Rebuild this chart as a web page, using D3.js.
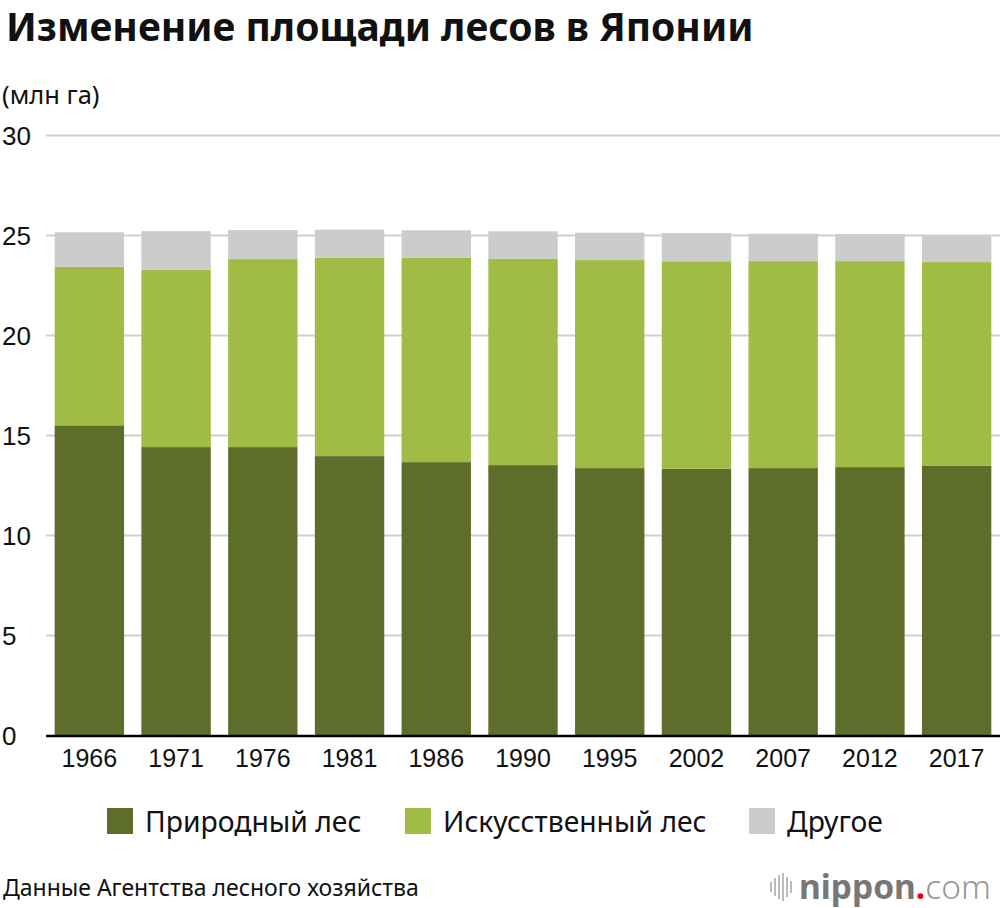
<!DOCTYPE html>
<html><head><meta charset="utf-8">
<script src="https://cdn.jsdelivr.net/npm/d3@7/dist/d3.min.js"></script>
<style>body{margin:0;background:#fff}svg{display:block}</style>
</head><body>
<svg id="c" width="1000" height="908"></svg>
<script>
const years = ["1966","1971","1976","1981","1986","1990","1995","2002","2007","2012","2017"];
const natural = [15.51,14.42,14.42,13.97,13.67,13.52,13.37,13.34,13.37,13.42,13.48];
const artificial = [7.93,8.87,9.40,9.92,10.22,10.32,10.40,10.37,10.35,10.30,10.19];
const other = [1.72,1.93,1.45,1.40,1.37,1.37,1.37,1.41,1.37,1.35,1.34];
const seriesNames = ["Природный лес","Искусственный лес","Другое"];
const seriesColors = ["#5e6e2a","#a0bc44","#cccccc"];
const yTicks = [0,5,10,15,20,25,30];

const svg = d3.select("#c");
const NS = "'Noto Sans','Open Sans',sans-serif";
const SANS = "'Liberation Sans',Arial,sans-serif";

svg.append("text").attr("x",6).attr("y",41).attr("font-family",NS).attr("font-weight",700)
  .attr("font-size",39).attr("fill","#111").text("Изменение площади лесов в Японии");
svg.append("text").attr("x",2).attr("y",104).attr("font-family",NS)
  .attr("font-size",25.5).attr("fill","#111").text("(млн га)");

const x = d3.scaleBand().domain(years).range([46,1000]).paddingInner(0.2).paddingOuter(0.1);
const y = d3.scaleLinear().domain([0,30]).range([735.5,135.5]);

// grid
svg.append("g").selectAll("line").data(yTicks.filter(d=>d>0)).join("line")
  .attr("x1",46).attr("x2",1000).attr("y1",d=>y(d)).attr("y2",d=>y(d))
  .attr("stroke","#d0d0d0").attr("stroke-width",2);
svg.append("g").selectAll("text").data(yTicks).join("text")
  .attr("x",2).attr("y",d=>y(d)+9).attr("font-family",SANS).attr("font-size",26)
  .attr("fill","#111").text(d=>d);

const rows = years.map((yr,i)=>({year:yr,n:natural[i],a:artificial[i],o:other[i]}));
const stack = d3.stack().keys(["n","a","o"])(rows);
svg.append("g").selectAll("g").data(stack).join("g").attr("fill",(d,i)=>seriesColors[i])
  .selectAll("rect").data(d=>d).join("rect")
  .attr("x",d=>x(d.data.year)).attr("width",x.bandwidth())
  .attr("y",d=>y(d[1])).attr("height",d=>y(d[0])-y(d[1]));

svg.append("line").attr("x1",46).attr("x2",1000).attr("y1",y(0)+0.5).attr("y2",y(0)+0.5)
  .attr("stroke","#000").attr("stroke-width",2.5);

svg.append("g").selectAll("text").data(years).join("text")
  .attr("x",d=>x(d)+x.bandwidth()/2).attr("y",767).attr("text-anchor","middle")
  .attr("font-family",SANS).attr("font-size",25).attr("fill","#111").text(d=>d);

// legend
const legX = [107,405,749];
const lg = svg.append("g").selectAll("g").data(seriesNames).join("g")
  .attr("transform",(d,i)=>`translate(${legX[i]},808)`);
lg.append("rect").attr("width",26).attr("height",26).attr("fill",(d,i)=>seriesColors[i]);
lg.append("text").attr("x",38).attr("y",24).attr("font-family",NS).attr("font-size",28.3)
  .attr("fill","#111").text(d=>d);

svg.append("text").attr("x",3).attr("y",896).attr("font-family",NS).attr("font-size",23)
  .attr("fill","#111").text("Данные Агентства лесного хозяйства");

// logo
const logo = svg.append("g").attr("transform","translate(770,872)");
[[0,10],[4,18],[8,24],[12,28],[16,20],[20,12]].forEach(([dx,h])=>{
  logo.append("rect").attr("x",dx).attr("y",15-h/2).attr("width",2).attr("height",h).attr("fill","#bbb");
});
const lt = logo.append("text").attr("x",29).attr("y",27).attr("font-family",NS).attr("font-size",33.5);
lt.append("tspan").attr("font-weight",700).attr("fill","#777").text("nippon");
lt.append("tspan").attr("font-weight",700).attr("fill","#e60012").text(".");
lt.append("tspan").attr("font-weight",300).attr("fill","#999").text("com");
</script>
</body></html>
